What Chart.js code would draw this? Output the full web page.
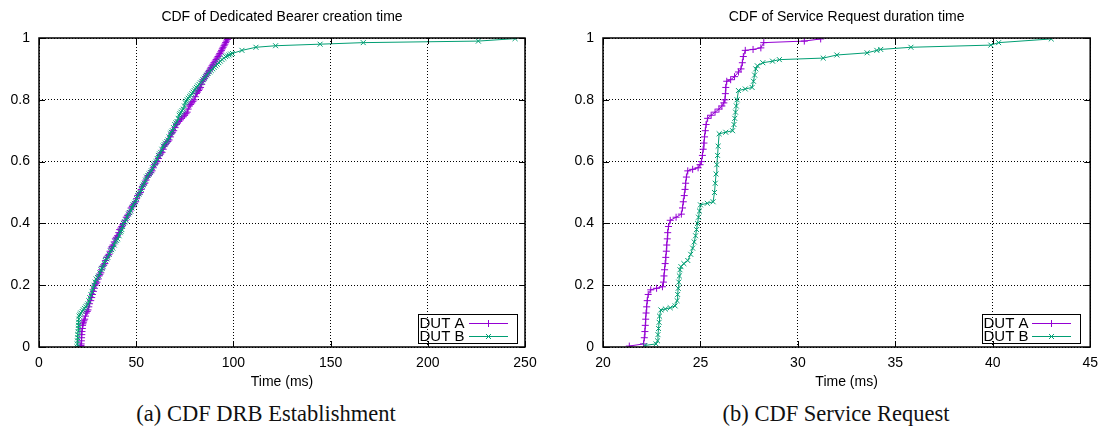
<!DOCTYPE html>
<html>
<head>
<meta charset="utf-8">
<script src="https://cdn.jsdelivr.net/npm/chart.js@4.4.0/dist/chart.umd.min.js"></script>
<style>
  body { margin: 0; background: #fff; width: 1106px; height: 436px; position: relative; overflow: hidden; }
  .panel { position: absolute; top: 0; width: 553px; height: 395px; }
  .caption { position: absolute; top: 401px; width: 400px; text-align: center; font-family: "Liberation Serif", "DejaVu Serif", serif; font-size: 22.5px; color: #111; }
</style>
</head>
<body>
<div class="panel" style="left:0"><canvas id="drbChart" width="553" height="395"></canvas></div>
<div class="panel" style="left:553px"><canvas id="srChart" width="553" height="395"></canvas></div>
<div class="caption" style="left:66px">(a) CDF DRB Establishment</div>
<div class="caption" style="left:636px">(b) CDF Service Request</div>
<script>
const seriesNames = ['DUT A', 'DUT B'];
const yTickLabels = ['0', '0.2', '0.4', '0.6', '0.8', '1'];

// (a) dedicated bearer creation time (ms) and cumulative fraction
const drbTimeA = [21.5, 21.6, 21.7, 21.8, 21.9, 22.0, 22.1, 22.3, 22.4, 22.6, 22.8, 23.1, 23.5, 23.9, 24.3, 24.8, 25.2, 25.6, 26.0, 26.6, 27.1, 27.5, 28.0, 28.5,
  28.9, 29.3, 29.8, 30.4, 30.9, 31.3, 31.8, 32.2, 32.6, 33.3, 33.9, 34.3, 34.8, 35.5, 36.0, 36.6, 37.2, 37.6, 38.1, 38.7, 39.3, 39.8,
  40.4, 41.0, 41.5, 42.1, 42.6, 43.1, 43.6, 44.3, 44.9, 45.5, 46.2, 46.8, 47.4, 48.0, 48.5, 49.1, 49.7, 50.2, 50.8, 51.5, 52.1, 52.6,
  53.2, 53.8, 54.4, 55.0, 55.7, 56.3, 56.9, 57.5, 58.1, 58.8, 59.4, 60.1, 60.8, 61.4, 62.0, 62.6, 63.3, 63.9, 64.5, 65.0, 65.6, 66.3,
  66.9, 67.6, 68.2, 68.7, 69.3, 70.0, 70.7, 71.3, 72.0, 72.6, 73.3, 74.1, 74.9, 75.6, 76.2, 76.7, 77.3, 78.0, 78.6, 79.2, 79.8, 80.4,
  81.0, 81.5, 82.1, 82.6, 83.1, 83.7, 84.2, 84.7, 85.2, 85.7, 86.2, 86.6, 87.1, 87.6, 88.1, 88.5, 89.0, 89.5, 90.0, 90.6, 91.1, 91.6,
  92.1, 92.6, 93.0, 93.5, 93.9, 94.3, 94.7, 95.2, 95.6, 96.0, 96.4, 96.9, 97.3];
const drbCdfA = [0.00, 0.005, 0.01, 0.02, 0.03, 0.04, 0.05, 0.06, 0.07, 0.075, 0.08, 0.085, 0.09, 0.10, 0.11, 0.115, 0.12, 0.13, 0.14, 0.15, 0.16, 0.17, 0.18, 0.19,
  0.20, 0.205, 0.21, 0.22, 0.23, 0.235, 0.24, 0.25, 0.26, 0.265, 0.27, 0.28, 0.29, 0.295, 0.30, 0.31, 0.32, 0.325, 0.33, 0.34, 0.35, 0.355,
  0.36, 0.37, 0.38, 0.385, 0.39, 0.395, 0.40, 0.41, 0.42, 0.425, 0.43, 0.44, 0.45, 0.455, 0.46, 0.465, 0.47, 0.48, 0.49, 0.495, 0.50, 0.51,
  0.52, 0.525, 0.53, 0.54, 0.55, 0.555, 0.56, 0.565, 0.57, 0.58, 0.59, 0.595, 0.60, 0.61, 0.62, 0.625, 0.63, 0.64, 0.65, 0.655, 0.66, 0.665,
  0.67, 0.68, 0.69, 0.695, 0.70, 0.71, 0.72, 0.725, 0.73, 0.735, 0.74, 0.745, 0.75, 0.755, 0.76, 0.77, 0.78, 0.785, 0.79, 0.795, 0.80, 0.81,
  0.82, 0.825, 0.83, 0.835, 0.84, 0.85, 0.86, 0.865, 0.87, 0.875, 0.88, 0.885, 0.89, 0.895, 0.90, 0.905, 0.91, 0.915, 0.92, 0.925, 0.93, 0.935,
  0.94, 0.945, 0.95, 0.955, 0.96, 0.965, 0.97, 0.975, 0.98, 0.985, 0.99, 0.995, 1.00];
const drbTimeB = [19.6, 19.7, 19.8, 19.9, 20.0, 20.1, 20.2, 20.3, 20.4, 20.5, 20.6, 21.0, 21.5, 22.2, 22.8, 23.4, 24.0, 24.6, 25.2, 25.6, 26.1, 26.7, 27.3, 27.8,
  28.3, 28.9, 29.4, 30.1, 30.7, 31.3, 31.9, 32.4, 33.0, 33.6, 34.1, 34.8, 35.4, 36.1, 36.8, 37.4, 38.0, 38.7, 39.3, 39.9, 40.5, 41.2,
  41.8, 42.2, 42.6, 43.0, 43.4, 44.1, 44.8, 45.4, 46.0, 46.6, 47.2, 47.8, 48.4, 49.0, 49.6, 50.2, 50.8, 51.4, 52.0, 52.6, 53.1, 53.6,
  54.2, 54.8, 55.3, 56.0, 56.6, 57.2, 57.8, 58.4, 59.0, 59.6, 60.2, 60.8, 61.4, 62.0, 62.6, 63.2, 63.8, 64.4, 65.0, 65.7, 66.3, 66.9,
  67.5, 68.0, 68.6, 69.2, 69.8, 70.4, 71.0, 71.6, 72.1, 72.5, 73.0, 73.6, 74.2, 74.8, 75.3, 75.7, 76.2, 76.8, 77.4, 78.0, 78.6, 79.2,
  79.8, 80.4, 81.0, 81.6, 82.3, 83.0, 83.7, 84.3, 85.0, 85.6, 86.3, 87.0, 87.8, 88.6, 89.4, 90.1, 90.9, 91.7, 92.5, 93.3, 94.2, 95.1,
  96.0, 96.9, 97.8, 98.6, 99.5, 104.4, 111.6, 121.7, 144.6, 166.8, 226.0, 244.9];
const drbCdfB = [0.00, 0.01, 0.02, 0.03, 0.04, 0.05, 0.06, 0.07, 0.08, 0.09, 0.10, 0.105, 0.11, 0.115, 0.12, 0.125, 0.13, 0.135, 0.14, 0.15, 0.16, 0.17, 0.18, 0.19,
  0.20, 0.21, 0.22, 0.225, 0.23, 0.24, 0.25, 0.255, 0.26, 0.27, 0.28, 0.285, 0.29, 0.30, 0.31, 0.315, 0.32, 0.33, 0.34, 0.345, 0.35, 0.36,
  0.37, 0.375, 0.38, 0.39, 0.40, 0.405, 0.41, 0.42, 0.43, 0.435, 0.44, 0.45, 0.46, 0.465, 0.47, 0.48, 0.49, 0.495, 0.50, 0.51, 0.52, 0.525,
  0.53, 0.54, 0.55, 0.555, 0.56, 0.565, 0.57, 0.58, 0.59, 0.595, 0.60, 0.61, 0.62, 0.625, 0.63, 0.64, 0.65, 0.655, 0.66, 0.665, 0.67, 0.68,
  0.69, 0.695, 0.70, 0.71, 0.72, 0.725, 0.73, 0.74, 0.75, 0.755, 0.76, 0.765, 0.77, 0.78, 0.79, 0.795, 0.80, 0.805, 0.81, 0.815, 0.82, 0.825,
  0.83, 0.835, 0.84, 0.845, 0.85, 0.855, 0.86, 0.865, 0.87, 0.875, 0.88, 0.885, 0.89, 0.895, 0.90, 0.905, 0.91, 0.915, 0.92, 0.925, 0.93, 0.935,
  0.94, 0.942, 0.945, 0.948, 0.95, 0.96, 0.97, 0.975, 0.98, 0.985, 0.99, 0.998];

// (b) service request duration time (ms) and cumulative fraction
const srTimeA = [21.35, 22.08, 22.12, 22.15, 22.17, 22.19, 22.21, 22.24, 22.27, 22.32, 22.45, 22.75, 23.05,
  23.10, 23.13, 23.16, 23.19, 23.22, 23.25, 23.27, 23.30, 23.32, 23.36, 23.45, 23.75, 24.02,
  24.08, 24.12, 24.17, 24.21, 24.24, 24.28, 24.35, 24.60, 24.88, 24.98, 25.05,
  25.10, 25.14, 25.18, 25.21, 25.25, 25.29, 25.37, 25.55, 25.75, 25.95, 26.10, 26.20, 26.26,
  26.28, 26.30, 26.35, 26.55, 26.75, 26.95, 27.08, 27.15, 27.20, 27.30, 27.70, 28.10, 28.25, 30.33, 31.17];
const srCdfA = [0.003, 0.01, 0.03, 0.05, 0.07, 0.09, 0.11, 0.13, 0.15, 0.17, 0.185, 0.19, 0.195,
  0.21, 0.23, 0.25, 0.27, 0.29, 0.31, 0.33, 0.35, 0.37, 0.39, 0.41, 0.42, 0.43,
  0.45, 0.47, 0.49, 0.51, 0.53, 0.55, 0.57, 0.575, 0.58, 0.59, 0.60,
  0.62, 0.64, 0.66, 0.68, 0.70, 0.72, 0.74, 0.75, 0.76, 0.77, 0.78, 0.79, 0.80,
  0.82, 0.84, 0.86, 0.865, 0.875, 0.89, 0.90, 0.92, 0.94, 0.96, 0.963, 0.968, 0.985, 0.99, 0.997];
const srTimeB = [22.15, 22.72, 22.80, 22.82, 22.85, 22.88, 22.90, 22.97, 23.20, 23.45, 23.70,
  23.80, 23.83, 23.86, 23.89, 23.92, 23.95, 24.00, 24.15, 24.35, 24.50, 24.60, 24.68, 24.75, 24.80, 24.85, 24.90, 24.95, 25.00,
  25.35, 25.65, 25.72, 25.76, 25.80, 25.84, 25.88, 25.91, 25.96, 26.30, 26.65,
  26.72, 26.76, 26.80, 26.84, 26.88, 26.95, 27.30, 27.65, 27.72, 27.78, 27.84, 27.92, 28.20, 28.70, 29.05,
  31.30, 32.00, 33.55, 34.05, 34.25, 35.80, 39.90, 40.30, 43.00];
const srCdfB = [0.005, 0.01, 0.02, 0.04, 0.06, 0.08, 0.10, 0.12, 0.123, 0.127, 0.133,
  0.15, 0.17, 0.19, 0.21, 0.23, 0.25, 0.26, 0.27, 0.28, 0.30, 0.32, 0.34, 0.36, 0.38, 0.40, 0.42, 0.44, 0.46,
  0.465, 0.47, 0.50, 0.53, 0.56, 0.59, 0.62, 0.65, 0.69, 0.695, 0.70,
  0.72, 0.74, 0.76, 0.78, 0.80, 0.83, 0.835, 0.84, 0.86, 0.88, 0.90, 0.91, 0.92, 0.925, 0.93,
  0.935, 0.945, 0.952, 0.96, 0.963, 0.97, 0.977, 0.985, 0.997];

const colorA = '#9400D3';
const colorB = '#009E73';
const sansFont = '"Liberation Sans", Arial, sans-serif';

const toPoints = (xs, ys) => xs.map((x, i) => ({ x: x, y: ys[i] }));

// gnuplot look: title over plot, solid frame, inward ticks, boxed key
const gnuplotFrame = {
    id: 'gnuplotFrame',
    afterDraw(chart, args, opts) {
        const { ctx, chartArea: a, scales } = chart;
        ctx.save();
        ctx.fillStyle = '#000';
        ctx.font = '14px ' + sansFont;
        ctx.textAlign = 'center';
        ctx.textBaseline = 'middle';
        ctx.fillText(opts.title, (a.left + a.right) / 2, 17);

        ctx.strokeStyle = '#000';
        ctx.lineWidth = 1;
        ctx.beginPath();
        scales.x.ticks.forEach(t => {
            const px = Math.round(scales.x.getPixelForValue(t.value)) + 0.5;
            ctx.moveTo(px, a.bottom); ctx.lineTo(px, a.bottom - 6);
            ctx.moveTo(px, a.top); ctx.lineTo(px, a.top + 6);
        });
        scales.y.ticks.forEach(t => {
            const py = Math.round(scales.y.getPixelForValue(t.value)) + 0.5;
            ctx.moveTo(a.left, py); ctx.lineTo(a.left + 6, py);
            ctx.moveTo(a.right, py); ctx.lineTo(a.right - 6, py);
        });
        ctx.stroke();
        ctx.lineWidth = 1.5;
        ctx.strokeRect(a.left, a.top, a.width, a.height);

        // key box
        const w = opts.keyWidth, h = 29;
        const bx = Math.round(a.right - opts.keyRight - w), by = Math.round(a.bottom - 4 - h);
        ctx.lineWidth = 1;
        ctx.strokeRect(bx + 0.5, by + 0.5, w, h);
        ctx.font = '15px ' + sansFont;
        ctx.textAlign = 'left';
        chart.data.datasets.forEach((ds, i) => {
            const ry = by + 9 + i * 13;
            ctx.fillStyle = '#000';
            ctx.fillText(ds.label, bx + 1.5, ry + 1);
            const x0 = bx + w - 48, x1 = bx + w - 9;
            ctx.strokeStyle = ds.borderColor;
            ctx.fillStyle = ds.borderColor;
            ctx.lineWidth = 1;
            ctx.beginPath();
            ctx.moveTo(x0, ry + 0.5); ctx.lineTo(x1, ry + 0.5);
            ctx.stroke();
            Chart.helpers.drawPoint(ctx, {
                pointStyle: ds.pointStyle, radius: ds.pointRadius, rotation: 0, borderWidth: 1
            }, (x0 + x1) / 2, ry + 0.5);
        });
        ctx.restore();
    }
};

const makeDataset = (label, xs, ys, color, style, order) => ({
    label: label,
    data: toPoints(xs, ys),
    showLine: true,
    borderColor: color,
    backgroundColor: color,
    borderWidth: 1,
    pointStyle: style,
    pointRadius: 3.5,
    pointBorderWidth: 1,
    pointHoverRadius: 3.5,
    order: order,
});

const makeChart = (id, opts) => {
    const ctx = document.getElementById(id);
    return new Chart(ctx, {
        type: 'scatter',
        data: {
            datasets: [
                makeDataset(seriesNames[0], opts.timeA, opts.cdfA, colorA, 'cross', 1),
                makeDataset(seriesNames[1], opts.timeB, opts.cdfB, colorB, 'crossRot', 0),
            ]
        },
        options: {
            responsive: false,
            animation: false,
            events: [],
            layout: { padding: { top: 38, right: opts.padRight, bottom: 0, left: 0 } },
            scales: {
                x: {
                    type: 'linear',
                    min: opts.xMin,
                    max: opts.xMax,
                    afterFit: (scale) => { scale.height = 48; },
                    grid: { color: '#000', drawTicks: false, lineWidth: 1 },
                    border: { display: false, dash: [1, 2] },
                    ticks: { stepSize: opts.xStep, color: '#000', padding: 8, font: { family: sansFont, size: 14 } },
                    title: { display: true, text: 'Time (ms)', color: '#000', padding: { top: 0, bottom: 4 }, font: { family: sansFont, size: 14 } },
                },
                y: {
                    min: 0,
                    max: 1,
                    afterFit: (scale) => { scale.width = opts.yWidth; },
                    grid: { color: '#000', drawTicks: false, lineWidth: 1 },
                    border: { display: false, dash: [1, 2] },
                    ticks: {
                        stepSize: 0.2, color: '#000', padding: 9, font: { family: sansFont, size: 14 },
                        callback: (value, index) => yTickLabels[index],
                    },
                },
            },
            plugins: {
                legend: { display: false },
                tooltip: { enabled: false },
                gnuplotFrame: { title: opts.title, keyWidth: opts.keyWidth, keyRight: opts.keyRight },
            },
        },
        plugins: [gnuplotFrame],
    });
};

makeChart('drbChart', {
    title: 'CDF of Dedicated Bearer creation time',
    timeA: drbTimeA, cdfA: drbCdfA, timeB: drbTimeB, cdfB: drbCdfB,
    xMin: 0, xMax: 250, xStep: 50, yWidth: 39, padRight: 28, keyWidth: 99, keyRight: 8,
});

makeChart('srChart', {
    title: 'CDF of Service Request duration time',
    timeA: srTimeA, cdfA: srCdfA, timeB: srTimeB, cdfB: srCdfB,
    xMin: 20, xMax: 45, xStep: 5, yWidth: 50, padRight: 13, keyWidth: 98, keyRight: 10,
});
</script>
</body>
</html>
